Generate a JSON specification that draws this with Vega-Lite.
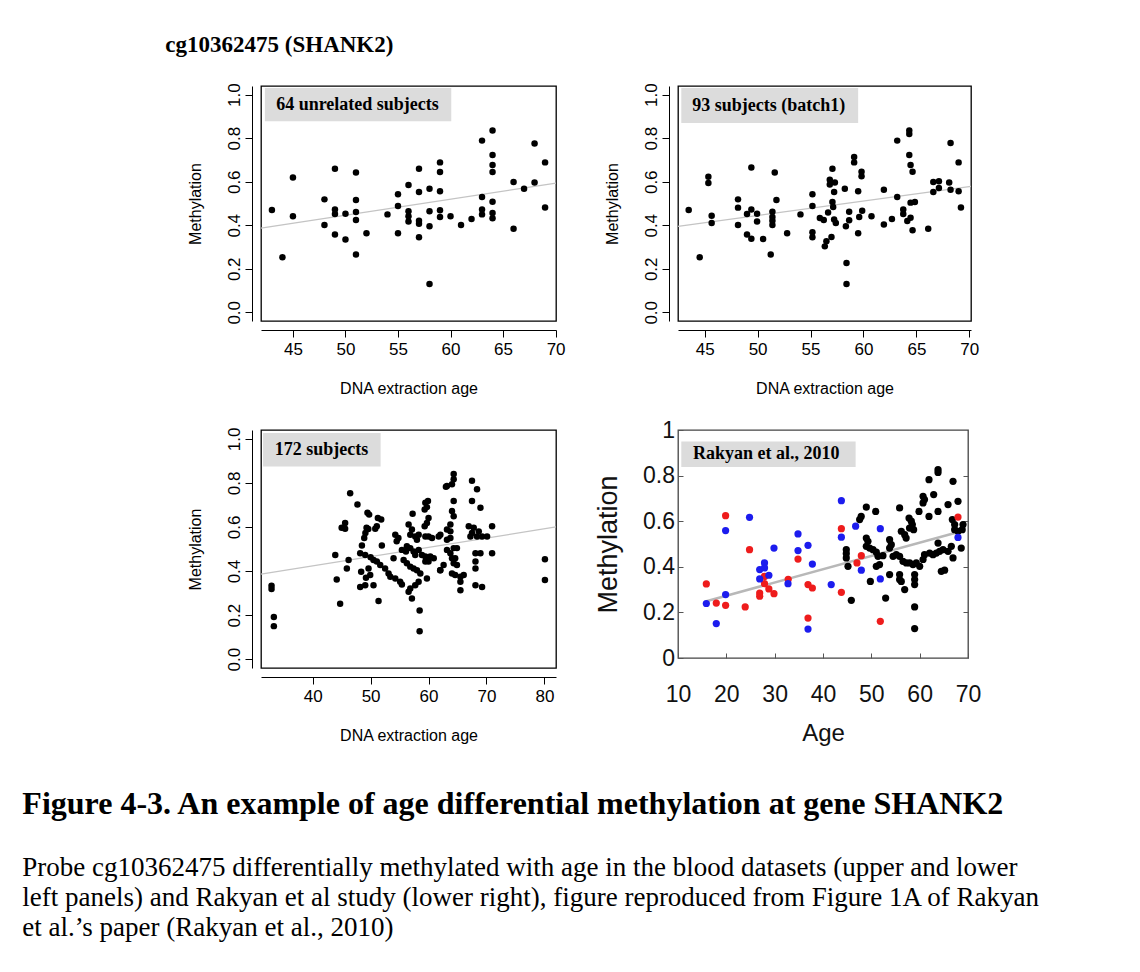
{
  "$schema": "https://vega.github.io/schema/vega-lite/v6.json",
  "background": "white",
  "padding": {"left": 22, "top": 34, "right": 5, "bottom": 5},
  "config": {
    "view": {"stroke": "black", "strokeWidth": 1.3},
    "axis": {"grid": false, "labelFont": "Liberation Sans", "titleFont": "Liberation Sans", "titleFontWeight": "normal", "labelColor": "black", "titleColor": "black", "domainColor": "black", "tickColor": "black", "labelOverlap": false, "labelFlush": false}
  },
  "title": {"text": "cg10362475 (SHANK2)", "anchor": "start", "font": "Liberation Serif", "fontSize": 23, "fontWeight": "bold", "color": "black", "dx": 143, "offset": 25},
  "datasets": {
    "p1": [
      {"age":43,"meth":0.47},{"age":44,"meth":0.253},{"age":45,"meth":0.62},{"age":45,"meth":0.441},{"age":48,"meth":0.519},{"age":48,"meth":0.401},
      {"age":49,"meth":0.66},{"age":49,"meth":0.472},{"age":49,"meth":0.452},{"age":49,"meth":0.358},{"age":50,"meth":0.453},{"age":50,"meth":0.335},
      {"age":51,"meth":0.642},{"age":51,"meth":0.516},{"age":51,"meth":0.461},{"age":51,"meth":0.424},{"age":51,"meth":0.266},{"age":52,"meth":0.363},
      {"age":54,"meth":0.45},{"age":55,"meth":0.542},{"age":55,"meth":0.489},{"age":55,"meth":0.363},{"age":56,"meth":0.585},{"age":56,"meth":0.464},
      {"age":56,"meth":0.441},{"age":56,"meth":0.417},{"age":57,"meth":0.66},{"age":57,"meth":0.553},{"age":57,"meth":0.421},{"age":57,"meth":0.407},
      {"age":57,"meth":0.345},{"age":58,"meth":0.568},{"age":58,"meth":0.464},{"age":58,"meth":0.395},{"age":58,"meth":0.13},{"age":59,"meth":0.689},
      {"age":59,"meth":0.645},{"age":59,"meth":0.556},{"age":59,"meth":0.469},{"age":59,"meth":0.438},{"age":60,"meth":0.441},{"age":61,"meth":0.401},
      {"age":62,"meth":0.429},{"age":63,"meth":0.789},{"age":63,"meth":0.53},{"age":63,"meth":0.472},{"age":63,"meth":0.45},{"age":64,"meth":0.836},
      {"age":64,"meth":0.723},{"age":64,"meth":0.677},{"age":64,"meth":0.645},{"age":64,"meth":0.508},{"age":64,"meth":0.456},{"age":64,"meth":0.432},
      {"age":66,"meth":0.599},{"age":66,"meth":0.384},{"age":67,"meth":0.568},{"age":68,"meth":0.776},{"age":68,"meth":0.596},{"age":69,"meth":0.689},
      {"age":69,"meth":0.482}
    ],
    "p2": [
      {"age":43.49,"meth":0.47},{"age":44.53,"meth":0.253},{"age":45.35,"meth":0.623},{"age":45.35,"meth":0.594},{"age":45.66,"meth":0.444},{"age":45.66,"meth":0.41},
      {"age":48.15,"meth":0.519},{"age":48.15,"meth":0.481},{"age":48.15,"meth":0.401},{"age":49.0,"meth":0.452},{"age":49.0,"meth":0.358},{"age":49.41,"meth":0.665},
      {"age":49.41,"meth":0.472},{"age":49.41,"meth":0.338},{"age":49.95,"meth":0.453},{"age":49.95,"meth":0.417},{"age":50.52,"meth":0.337},{"age":51.24,"meth":0.266},
      {"age":51.4,"meth":0.462},{"age":51.4,"meth":0.438},{"age":51.4,"meth":0.421},{"age":51.4,"meth":0.401},{"age":51.62,"meth":0.642},{"age":51.78,"meth":0.516},
      {"age":52.79,"meth":0.363},{"age":54.05,"meth":0.45},{"age":55.18,"meth":0.542},{"age":55.18,"meth":0.489},{"age":55.18,"meth":0.368},{"age":55.18,"meth":0.345},
      {"age":55.88,"meth":0.433},{"age":56.25,"meth":0.424},{"age":56.35,"meth":0.303},{"age":56.5,"meth":0.326},{"age":56.66,"meth":0.459},{"age":56.82,"meth":0.609},
      {"age":56.82,"meth":0.587},{"age":56.98,"meth":0.346},{"age":57.07,"meth":0.66},{"age":57.07,"meth":0.507},{"age":57.14,"meth":0.484},{"age":57.23,"meth":0.553},
      {"age":57.23,"meth":0.426},{"age":57.3,"meth":0.597},{"age":57.39,"meth":0.41},{"age":58.24,"meth":0.568},{"age":58.34,"meth":0.395},{"age":58.4,"meth":0.227},
      {"age":58.4,"meth":0.13},{"age":58.65,"meth":0.462},{"age":58.65,"meth":0.423},{"age":59.12,"meth":0.714},{"age":59.12,"meth":0.689},{"age":59.5,"meth":0.556},
      {"age":59.5,"meth":0.363},{"age":59.6,"meth":0.438},{"age":59.82,"meth":0.646},{"age":59.82,"meth":0.625},{"age":59.88,"meth":0.467},{"age":60.76,"meth":0.441},
      {"age":61.93,"meth":0.403},{"age":61.93,"meth":0.563},{"age":62.69,"meth":0.429},{"age":63.19,"meth":0.789},{"age":63.19,"meth":0.53},{"age":63.76,"meth":0.472},
      {"age":63.76,"meth":0.452},{"age":64.14,"meth":0.42},{"age":64.33,"meth":0.836},{"age":64.33,"meth":0.819},{"age":64.33,"meth":0.723},{"age":64.45,"meth":0.677},
      {"age":64.45,"meth":0.504},{"age":64.45,"meth":0.435},{"age":64.64,"meth":0.646},{"age":64.64,"meth":0.377},{"age":64.86,"meth":0.507},{"age":66.12,"meth":0.384},
      {"age":66.6,"meth":0.599},{"age":66.6,"meth":0.553},{"age":67.13,"meth":0.602},{"age":67.13,"meth":0.571},{"age":68.1,"meth":0.597},{"age":68.23,"meth":0.778},
      {"age":68.23,"meth":0.563},{"age":68.99,"meth":0.689},{"age":68.99,"meth":0.556},{"age":69.21,"meth":0.482}
    ],
    "p3": [
      {"age":32.9,"meth":0.333},{"age":32.9,"meth":0.318},{"age":33.3,"meth":0.191},{"age":33.3,"meth":0.15},
      {"age":46.47,"meth":0.753},{"age":47.73,"meth":0.702},{"age":49.46,"meth":0.664},{"age":49.75,"meth":0.656},{"age":51.25,"meth":0.641},{"age":51.83,"meth":0.634},
      {"age":45.6,"meth":0.618},{"age":45.0,"meth":0.596},{"age":45.6,"meth":0.592},
      {"age":49.3,"meth":0.596},{"age":49.1,"meth":0.573},{"age":49.6,"meth":0.591},{"age":50.8,"meth":0.592},{"age":51.07,"meth":0.603},
      {"age":48.9,"meth":0.55},{"age":48.5,"meth":0.516},{"age":51.94,"meth":0.516},{"age":43.9,"meth":0.473},
      {"age":48.2,"meth":0.481},{"age":49.07,"meth":0.473},{"age":50.0,"meth":0.463},{"age":50.5,"meth":0.45},{"age":51.07,"meth":0.443},{"age":51.66,"meth":0.427},
      {"age":46.2,"meth":0.45},{"age":45.9,"meth":0.412},
      {"age":48.37,"meth":0.397},{"age":49.64,"meth":0.412},{"age":49.93,"meth":0.382},{"age":49.07,"meth":0.336},{"age":48.2,"meth":0.328},{"age":50.5,"meth":0.336},{"age":49.2,"meth":0.37},
      {"age":44.15,"meth":0.362},{"age":44.74,"meth":0.252},{"age":51.37,"meth":0.264},
      {"age":52.5,"meth":0.412},{"age":53.1,"meth":0.389},{"age":53.4,"meth":0.374},{"age":54.26,"meth":0.366},{"age":55.1,"meth":0.351},{"age":55.4,"meth":0.339},
      {"age":54.26,"meth":0.565},{"age":54.8,"meth":0.55},{"age":54.5,"meth":0.535},{"age":53.96,"meth":0.458},
      {"age":55.4,"meth":0.496},{"age":56.1,"meth":0.489},
      {"age":56.56,"meth":0.611},{"age":57.13,"meth":0.588},{"age":56.85,"meth":0.565},{"age":57.25,"meth":0.66},
      {"age":57.7,"meth":0.557},{"age":58.0,"meth":0.542},{"age":58.3,"meth":0.565},
      {"age":56.26,"meth":0.512},{"age":56.85,"meth":0.504},{"age":57.42,"meth":0.489},{"age":57.7,"meth":0.473},{"age":58.3,"meth":0.496},
      {"age":55.7,"meth":0.45},{"age":56.26,"meth":0.435},{"age":56.85,"meth":0.42},{"age":57.42,"meth":0.412},{"age":58.0,"meth":0.404},
      {"age":58.58,"meth":0.389},{"age":58.29,"meth":0.351},{"age":57.7,"meth":0.336},{"age":56.85,"meth":0.321},{"age":56.56,"meth":0.306},{"age":57.13,"meth":0.275},
      {"age":58.46,"meth":0.221},{"age":58.46,"meth":0.127},
      {"age":59.45,"meth":0.71},{"age":59.9,"meth":0.718},{"age":59.72,"meth":0.69},{"age":59.33,"meth":0.679},
      {"age":60.0,"meth":0.641},{"age":59.72,"meth":0.618},{"age":59.33,"meth":0.603},
      {"age":59.45,"meth":0.557},{"age":60.0,"meth":0.557},{"age":60.6,"meth":0.55},
      {"age":58.86,"meth":0.473},{"age":59.45,"meth":0.466},{"age":60.3,"meth":0.466},{"age":60.9,"meth":0.458},{"age":59.45,"meth":0.443},{"age":60.0,"meth":0.443},
      {"age":59.72,"meth":0.366},{"age":62.0,"meth":0.404},{"age":61.75,"meth":0.557},{"age":63.0,"meth":0.782},
      {"age":64.34,"meth":0.84},{"age":64.34,"meth":0.817},{"age":64.05,"meth":0.794},{"age":63.18,"meth":0.786},
      {"age":67.5,"meth":0.81},{"age":68.37,"meth":0.771},
      {"age":64.34,"meth":0.718},{"age":64.05,"meth":0.672},{"age":64.34,"meth":0.649},
      {"age":67.5,"meth":0.718},{"age":68.96,"meth":0.687},
      {"age":63.77,"meth":0.611},{"age":63.18,"meth":0.588},{"age":63.77,"meth":0.58},{"age":62.04,"meth":0.565},{"age":63.18,"meth":0.542},{"age":63.77,"meth":0.55},
      {"age":66.94,"meth":0.603},{"age":67.8,"meth":0.596},{"age":67.5,"meth":0.573},{"age":68.67,"meth":0.58},{"age":67.23,"meth":0.557},{"age":68.37,"meth":0.557},{"age":69.24,"meth":0.557},{"age":70.1,"meth":0.557},
      {"age":70.97,"meth":0.603},
      {"age":63.18,"meth":0.496},{"age":63.77,"meth":0.481},{"age":64.34,"meth":0.504},{"age":64.9,"meth":0.504},{"age":64.05,"meth":0.458},{"age":64.6,"meth":0.458},{"age":64.34,"meth":0.435},{"age":64.9,"meth":0.427},
      {"age":62.6,"meth":0.427},{"age":62.04,"meth":0.404},
      {"age":64.05,"meth":0.389},{"age":64.6,"meth":0.382},{"age":65.5,"meth":0.374},{"age":66.07,"meth":0.382},{"age":65.5,"meth":0.351},{"age":65.5,"meth":0.313},
      {"age":68.1,"meth":0.481},{"age":68.96,"meth":0.481},{"age":70.97,"meth":0.481},
      {"age":68.1,"meth":0.443},{"age":68.1,"meth":0.412},{"age":68.1,"meth":0.336},{"age":69.24,"meth":0.328},
      {"age":80.09,"meth":0.453},{"age":80.09,"meth":0.359}
    ],
    "p4": [
      {"age":63.8,"meth":0.826,"g":"k"},{"age":63.8,"meth":0.814,"g":"k"},{"age":61.93,"meth":0.782,"g":"k"},{"age":66.9,"meth":0.775,"g":"k"},{"age":60.7,"meth":0.709,"g":"k"},
      {"age":61.0,"meth":0.695,"g":"k"},{"age":60.7,"meth":0.68,"g":"k"},{"age":62.9,"meth":0.717,"g":"k"},{"age":67.93,"meth":0.687,"g":"k"},{"age":48.96,"meth":0.662,"g":"k"},
      {"age":50.9,"meth":0.643,"g":"k"},{"age":55.85,"meth":0.658,"g":"k"},{"age":59.86,"meth":0.643,"g":"k"},{"age":63.8,"meth":0.643,"g":"k"},{"age":61.93,"meth":0.621,"g":"k"},
      {"age":65.87,"meth":0.673,"g":"k"},{"age":57.8,"meth":0.614,"g":"k"},{"age":58.27,"meth":0.6,"g":"k"},{"age":58.48,"meth":0.585,"g":"k"},{"age":57.9,"meth":0.57,"g":"k"},
      {"age":58.75,"meth":0.563,"g":"k"},{"age":47.9,"meth":0.621,"g":"k"},{"age":47.58,"meth":0.607,"g":"k"},{"age":66.76,"meth":0.607,"g":"k"},{"age":67.24,"meth":0.585,"g":"k"},
      {"age":67.24,"meth":0.563,"g":"k"},{"age":67.93,"meth":0.556,"g":"k"},{"age":68.97,"meth":0.585,"g":"k"},{"age":68.8,"meth":0.563,"g":"k"},{"age":56.2,"meth":0.556,"g":"k"},
      {"age":56.9,"meth":0.541,"g":"k"},{"age":57.2,"meth":0.526,"g":"k"},{"age":48.96,"meth":0.526,"g":"k"},{"age":49.3,"meth":0.512,"g":"k"},{"age":48.96,"meth":0.49,"g":"k"},
      {"age":49.65,"meth":0.482,"g":"k"},{"age":50.35,"meth":0.475,"g":"k"},{"age":51.03,"meth":0.464,"g":"k"},{"age":53.78,"meth":0.519,"g":"k"},{"age":54.13,"meth":0.497,"g":"k"},
      {"age":53.78,"meth":0.482,"g":"k"},{"age":44.82,"meth":0.475,"g":"k"},{"age":44.82,"meth":0.458,"g":"k"},{"age":44.82,"meth":0.439,"g":"k"},{"age":45.17,"meth":0.402,"g":"k"},
      {"age":51.38,"meth":0.446,"g":"k"},{"age":52.4,"meth":0.449,"g":"k"},{"age":55.17,"meth":0.453,"g":"k"},{"age":55.85,"meth":0.446,"g":"k"},{"age":56.55,"meth":0.424,"g":"k"},
      {"age":57.24,"meth":0.417,"g":"k"},{"age":57.93,"meth":0.417,"g":"k"},{"age":58.62,"meth":0.41,"g":"k"},{"age":59.3,"meth":0.417,"g":"k"},{"age":60.0,"meth":0.402,"g":"k"},
      {"age":60.7,"meth":0.432,"g":"k"},{"age":61.0,"meth":0.453,"g":"k"},{"age":62.06,"meth":0.46,"g":"k"},{"age":62.76,"meth":0.453,"g":"k"},{"age":63.45,"meth":0.46,"g":"k"},
      {"age":64.13,"meth":0.468,"g":"k"},{"age":63.8,"meth":0.504,"g":"k"},{"age":64.83,"meth":0.475,"g":"k"},{"age":65.87,"meth":0.468,"g":"k"},{"age":66.55,"meth":0.49,"g":"k"},
      {"age":66.9,"meth":0.439,"g":"k"},{"age":64.48,"meth":0.38,"g":"k"},{"age":65.16,"meth":0.385,"g":"k"},{"age":51.03,"meth":0.402,"g":"k"},{"age":51.7,"meth":0.41,"g":"k"},
      {"age":53.78,"meth":0.366,"g":"k"},{"age":55.85,"meth":0.366,"g":"k"},{"age":55.85,"meth":0.344,"g":"k"},{"age":56.2,"meth":0.336,"g":"k"},{"age":58.96,"meth":0.366,"g":"k"},
      {"age":58.96,"meth":0.344,"g":"k"},{"age":58.96,"meth":0.322,"g":"k"},{"age":56.9,"meth":0.3,"g":"k"},{"age":49.8,"meth":0.336,"g":"k"},{"age":52.96,"meth":0.263,"g":"k"},
      {"age":45.86,"meth":0.253,"g":"k"},{"age":58.96,"meth":0.224,"g":"k"},{"age":58.96,"meth":0.129,"g":"k"},{"age":68.6,"meth":0.482,"g":"k"},{"age":54.5,"meth":0.446,"g":"k"},
      {"age":15.86,"meth":0.325,"g":"r"},{"age":17.92,"meth":0.241,"g":"r"},{"age":19.85,"meth":0.624,"g":"r"},{"age":19.85,"meth":0.231,"g":"r"},{"age":23.9,"meth":0.224,"g":"r"},
      {"age":24.8,"meth":0.475,"g":"r"},{"age":26.9,"meth":0.285,"g":"r"},{"age":26.9,"meth":0.271,"g":"r"},{"age":27.9,"meth":0.358,"g":"r"},{"age":27.9,"meth":0.326,"g":"r"},
      {"age":28.8,"meth":0.303,"g":"r"},{"age":29.86,"meth":0.282,"g":"r"},{"age":32.8,"meth":0.345,"g":"r"},{"age":34.83,"meth":0.434,"g":"r"},{"age":36.9,"meth":0.322,"g":"r"},
      {"age":36.9,"meth":0.175,"g":"r"},{"age":37.8,"meth":0.307,"g":"r"},{"age":43.8,"meth":0.567,"g":"r"},{"age":43.8,"meth":0.288,"g":"r"},{"age":47.03,"meth":0.417,"g":"r"},
      {"age":47.93,"meth":0.449,"g":"r"},{"age":51.86,"meth":0.161,"g":"r"},{"age":67.93,"meth":0.618,"g":"r"},
      {"age":15.86,"meth":0.239,"g":"b"},{"age":17.92,"meth":0.151,"g":"b"},{"age":19.85,"meth":0.559,"g":"b"},{"age":19.85,"meth":0.278,"g":"b"},{"age":24.8,"meth":0.617,"g":"b"},
      {"age":26.9,"meth":0.388,"g":"b"},{"age":26.9,"meth":0.347,"g":"b"},{"age":27.9,"meth":0.417,"g":"b"},{"age":27.9,"meth":0.395,"g":"b"},{"age":28.8,"meth":0.363,"g":"b"},
      {"age":29.86,"meth":0.482,"g":"b"},{"age":32.76,"meth":0.326,"g":"b"},{"age":34.83,"meth":0.544,"g":"b"},{"age":34.83,"meth":0.471,"g":"b"},{"age":36.9,"meth":0.494,"g":"b"},
      {"age":36.9,"meth":0.127,"g":"b"},{"age":37.8,"meth":0.412,"g":"b"},{"age":41.7,"meth":0.322,"g":"b"},{"age":43.8,"meth":0.69,"g":"b"},{"age":43.8,"meth":0.53,"g":"b"},
      {"age":46.75,"meth":0.578,"g":"b"},{"age":47.93,"meth":0.385,"g":"b"},{"age":51.86,"meth":0.567,"g":"b"},{"age":51.86,"meth":0.347,"g":"b"},{"age":67.93,"meth":0.529,"g":"b"}
    ]
  },
  "vconcat": [
    {
      "title": {
        "text": "Figure 4-3. An example of age differential methylation at gene SHANK2",
        "orient": "bottom", "anchor": "start", "font": "Liberation Serif", "fontSize": 32, "fontWeight": "bold", "color": "black",
        "offset": 43, "dx": -164,
        "subtitle": ["Probe cg10362475 differentially methylated with age in the blood datasets (upper and lower", "left panels) and Rakyan et al study (lower right), figure reproduced from Figure 1A of Rakyan", "et al.’s paper (Rakyan et al., 2010)"],
        "subtitleFont": "Liberation Serif", "subtitleFontSize": 27, "subtitleColor": "black", "subtitleLineHeight": 30, "subtitlePadding": 34
      },
      "columns": 2,
      "bounds": "flush",
      "center": true,
      "spacing": {"row": 109, "column": 122},
      "concat": [
        {
          "width": 295, "height": 235,
          "layer": [
            {"data": {"values": [{"label": "64 unrelated subjects"}]}, "mark": {"type": "rect", "color": "#dcdcdc"},
             "encoding": {"x": {"datum": 42.33, "type": "quantitative"}, "x2": {"datum": 60.07}, "y": {"datum": 0.878, "type": "quantitative"}, "y2": {"datum": 1.031}}},
            {"data": {"values": [{"label": "64 unrelated subjects"}]}, "mark": {"type": "text", "align": "left", "baseline": "middle", "font": "Liberation Serif", "fontWeight": "bold", "fontSize": 18, "color": "black"},
             "encoding": {"x": {"datum": 43.4, "type": "quantitative"}, "y": {"datum": 0.952, "type": "quantitative"}, "text": {"field": "label"}}},
            {"data": {"values": [{"x1": 41.96, "y1": 0.387, "x2": 70.04, "y2": 0.594}]}, "mark": {"type": "rule", "color": "#c4c4c4", "strokeWidth": 1.3},
             "encoding": {"x": {"field": "x1", "type": "quantitative"}, "y": {"field": "y1", "type": "quantitative"}, "x2": {"field": "x2"}, "y2": {"field": "y2"}}},
            {"data": {"name": "p1"}, "mark": {"type": "circle", "size": 42, "color": "black", "opacity": 1},
             "encoding": {
               "x": {"field": "age", "type": "quantitative", "scale": {"domain": [41.96, 70.04], "nice": false, "zero": false},
                     "axis": {"title": "DNA extraction age", "values": [45, 50, 55, 60, 65, 70], "offset": 9, "tickSize": 7, "labelFontSize": 17, "labelPadding": 4, "titleFontSize": 16, "titlePadding": 23}},
               "y": {"field": "meth", "type": "quantitative", "scale": {"domain": [-0.04, 1.04], "nice": false, "zero": false},
                     "axis": {"title": "Methylation", "values": [0, 0.2, 0.4, 0.6, 0.8, 1], "format": ".1f", "offset": 9, "tickSize": 7, "labelAngle": -90, "labelAlign": "center", "labelBaseline": "alphabetic", "labelPadding": 6, "labelFontSize": 17, "titleFontSize": 16, "titlePadding": 22}}
             }}
          ]
        },
        {
          "width": 293, "height": 235,
          "layer": [
            {"data": {"values": [{"label": "93 subjects (batch1)"}]}, "mark": {"type": "rect", "color": "#dcdcdc"},
             "encoding": {"x": {"datum": 42.79, "type": "quantitative"}, "x2": {"datum": 59.5}, "y": {"datum": 0.87, "type": "quantitative"}, "y2": {"datum": 1.031}}},
            {"data": {"values": [{"label": "93 subjects (batch1)"}]}, "mark": {"type": "text", "align": "left", "baseline": "middle", "font": "Liberation Serif", "fontWeight": "bold", "fontSize": 18, "color": "black"},
             "encoding": {"x": {"datum": 43.83, "type": "quantitative"}, "y": {"datum": 0.95, "type": "quantitative"}, "text": {"field": "label"}}},
            {"data": {"values": [{"x1": 42.48, "y1": 0.395, "x2": 70.16, "y2": 0.579}]}, "mark": {"type": "rule", "color": "#c4c4c4", "strokeWidth": 1.3},
             "encoding": {"x": {"field": "x1", "type": "quantitative"}, "y": {"field": "y1", "type": "quantitative"}, "x2": {"field": "x2"}, "y2": {"field": "y2"}}},
            {"data": {"name": "p2"}, "mark": {"type": "circle", "size": 42, "color": "black", "opacity": 1},
             "encoding": {
               "x": {"field": "age", "type": "quantitative", "scale": {"domain": [42.48, 70.16], "nice": false, "zero": false},
                     "axis": {"title": "DNA extraction age", "values": [45, 50, 55, 60, 65, 70], "offset": 9, "tickSize": 7, "labelFontSize": 17, "labelPadding": 4, "titleFontSize": 16, "titlePadding": 23}},
               "y": {"field": "meth", "type": "quantitative", "scale": {"domain": [-0.04, 1.04], "nice": false, "zero": false},
                     "axis": {"title": "Methylation", "values": [0, 0.2, 0.4, 0.6, 0.8, 1], "format": ".1f", "offset": 9, "tickSize": 7, "labelAngle": -90, "labelAlign": "center", "labelBaseline": "alphabetic", "labelPadding": 6, "labelFontSize": 17, "titleFontSize": 16, "titlePadding": 22}}
             }}
          ]
        },
        {
          "width": 295, "height": 238,
          "layer": [
            {"data": {"values": [{"label": "172 subjects"}]}, "mark": {"type": "rect", "color": "#dcdcdc"},
             "encoding": {"x": {"datum": 31.44, "type": "quantitative"}, "x2": {"datum": 51.73}, "y": {"datum": 0.874, "type": "quantitative"}, "y2": {"datum": 1.026}}},
            {"data": {"values": [{"label": "172 subjects"}]}, "mark": {"type": "text", "align": "left", "baseline": "middle", "font": "Liberation Serif", "fontWeight": "bold", "fontSize": 18, "color": "black"},
             "encoding": {"x": {"datum": 33.46, "type": "quantitative"}, "y": {"datum": 0.95, "type": "quantitative"}, "text": {"field": "label"}}},
            {"data": {"values": [{"x1": 31.08, "y1": 0.386, "x2": 82.0, "y2": 0.6}]}, "mark": {"type": "rule", "color": "#c4c4c4", "strokeWidth": 1.3},
             "encoding": {"x": {"field": "x1", "type": "quantitative"}, "y": {"field": "y1", "type": "quantitative"}, "x2": {"field": "x2"}, "y2": {"field": "y2"}}},
            {"data": {"name": "p3"}, "mark": {"type": "circle", "size": 42, "color": "black", "opacity": 1},
             "encoding": {
               "x": {"field": "age", "type": "quantitative", "scale": {"domain": [31.08, 82.0], "nice": false, "zero": false},
                     "axis": {"title": "DNA extraction age", "values": [40, 50, 60, 70, 80], "offset": 9, "tickSize": 7, "labelFontSize": 17, "labelPadding": 4, "titleFontSize": 16, "titlePadding": 23}},
               "y": {"field": "meth", "type": "quantitative", "scale": {"domain": [-0.04, 1.04], "nice": false, "zero": false},
                     "axis": {"title": "Methylation", "values": [0, 0.2, 0.4, 0.6, 0.8, 1], "format": ".1f", "offset": 9, "tickSize": 7, "labelAngle": -90, "labelAlign": "center", "labelBaseline": "alphabetic", "labelPadding": 6, "labelFontSize": 17, "titleFontSize": 16, "titlePadding": 22}}
             }}
          ]
        },
        {
          "width": 290, "height": 228,
          "view": {"stroke": "#444444", "strokeWidth": 1.3},
          "resolve": {"axis": {"y": "independent"}},
          "layer": [
            {"data": {"values": [{"label": "Rakyan et al., 2010"}]}, "mark": {"type": "rect", "color": "#dcdcdc"},
             "encoding": {"x": {"datum": 10.68, "type": "quantitative"}, "x2": {"datum": 46.75}, "y": {"datum": 0.838, "type": "quantitative", "axis": null}, "y2": {"datum": 0.95}}},
            {"data": {"values": [{"label": "Rakyan et al., 2010"}]}, "mark": {"type": "text", "align": "left", "baseline": "middle", "font": "Liberation Serif", "fontWeight": "bold", "fontSize": 18, "color": "black"},
             "encoding": {"x": {"datum": 13.1, "type": "quantitative"}, "y": {"datum": 0.894, "type": "quantitative", "axis": null}, "text": {"field": "label"}}},
            {"data": {"values": [{"x1": 15.86, "y1": 0.249, "x2": 68.6, "y2": 0.556}]}, "mark": {"type": "rule", "color": "#b8b8b8", "strokeWidth": 2.5},
             "encoding": {"x": {"field": "x1", "type": "quantitative"},
                          "y": {"field": "y1", "type": "quantitative", "axis": {"orient": "right", "title": null, "labels": false, "domain": false, "tickSize": -5, "tickColor": "#555555", "values": [0.2, 0.4, 0.6, 0.8]}},
                          "x2": {"field": "x2"}, "y2": {"field": "y2"}}},
            {"data": {"name": "p4"}, "mark": {"type": "circle", "size": 52, "opacity": 1},
             "encoding": {
               "x": {"field": "age", "type": "quantitative", "scale": {"domain": [10, 70], "nice": false, "zero": false},
                     "axis": {"title": "Age", "values": [10, 20, 30, 40, 50, 60, 70], "domain": false, "tickSize": -5, "tickColor": "#555555", "labelFontSize": 23, "labelPadding": 30, "labelColor": "#111111", "titleFontSize": 24, "titlePadding": 15, "titleColor": "#111111"}},
               "y": {"field": "meth", "type": "quantitative", "scale": {"domain": [0, 1], "nice": false, "zero": false},
                     "axis": {"title": "Methylation", "values": [0, 0.2, 0.4, 0.6, 0.8, 1], "labelExpr": "'' + datum.value", "domain": false, "tickSize": -5, "tickColor": "#555555", "labelFontSize": 23, "labelPadding": 8.5, "labelColor": "#111111", "titleFontSize": 27, "titlePadding": 20, "titleColor": "#111111"}},
               "color": {"field": "g", "type": "nominal", "scale": {"domain": ["k", "r", "b"], "range": ["#000000", "#ee1c1c", "#1c1cee"]}, "legend": null}
             }}
          ]
        }
      ]
    }
  ]
}
